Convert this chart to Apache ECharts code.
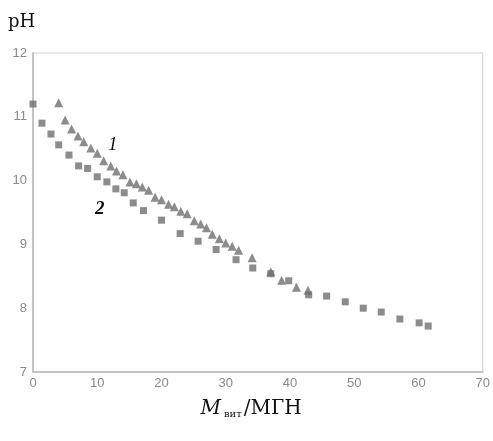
<!DOCTYPE html>
<html>
<head>
<meta charset="utf-8">
<script src="https://cdn.jsdelivr.net/npm/echarts@6/dist/echarts.min.js"></script>
<style>html,body{margin:0;padding:0;background:#fff}#c{width:493px;height:441px}</style>
</head>
<body>
<div id="c"></div>
<script>
// Series 1 (triangles)
const s1x = [4.0, 5.0, 6.0, 7.0, 7.9, 9.0, 10.0, 11.0, 12.1, 13.0, 14.0, 15.1, 16.1, 17.0, 18.0, 19.0, 20.0, 21.1, 22.0, 23.0, 24.0, 25.1, 26.1, 27.0, 27.9, 29.0, 30.0, 31.0, 32.0, 34.1, 37.0, 38.7, 41.0, 42.8];
const s1y = [11.22, 10.95, 10.81, 10.70, 10.61, 10.51, 10.43, 10.31, 10.23, 10.15, 10.09, 9.98, 9.95, 9.90, 9.85, 9.74, 9.70, 9.63, 9.59, 9.52, 9.48, 9.37, 9.32, 9.26, 9.16, 9.09, 9.02, 8.97, 8.91, 8.79, 8.57, 8.44, 8.33, 8.28];
// Series 2 (squares)
const s2x = [0, 1.4, 2.8, 4.0, 5.6, 7.1, 8.5, 10.0, 11.5, 12.9, 14.2, 15.6, 17.2, 20.0, 22.9, 25.7, 28.5, 31.6, 34.2, 37.0, 39.8, 42.9, 45.7, 48.6, 51.4, 54.2, 57.1, 60.1, 61.5];
const s2y = [11.20, 10.90, 10.73, 10.56, 10.40, 10.23, 10.19, 10.06, 9.98, 9.87, 9.81, 9.65, 9.53, 9.38, 9.17, 9.05, 8.92, 8.76, 8.63, 8.54, 8.43, 8.21, 8.19, 8.10, 8.00, 7.94, 7.83, 7.77, 7.72];
const xTicks = [0, 10, 20, 30, 40, 50, 60, 70];
const yTicks = [7, 8, 9, 10, 11, 12];

const chart = echarts.init(document.getElementById('c'));
const labelStyle = {color: '#8a8a8a', fontFamily: 'Liberation Sans, Arial, sans-serif', fontSize: 13};
chart.setOption({
  animation: false,
  grid: {left: 33, right: 8, top: 53, bottom: 69, show: true, borderColor: '#cfcfcf', borderWidth: 1},
  xAxis: {
    type: 'value', min: xTicks[0], max: xTicks[xTicks.length - 1], interval: 10,
    axisLine: {show: true, lineStyle: {color: '#c4c4c4', width: 2}},
    axisTick: {show: false}, splitLine: {show: false},
    axisLabel: Object.assign({margin: 5}, labelStyle)
  },
  yAxis: {
    type: 'value', min: yTicks[0], max: yTicks[yTicks.length - 1], interval: 1,
    axisLine: {show: true, lineStyle: {color: '#c4c4c4', width: 2}},
    axisTick: {show: false}, splitLine: {show: false},
    axisLabel: Object.assign({margin: 6}, labelStyle)
  },
  series: [
    {type: 'scatter', symbol: 'triangle', symbolSize: 9, itemStyle: {color: '#6f6f6f'},
     data: s1x.map((x, i) => [x, s1y[i]])},
    {type: 'scatter', symbol: 'rect', symbolSize: 7, itemStyle: {color: '#6f6f6f'},
     data: s2x.map((x, i) => [x, s2y[i]])}
  ]
});

const p1 = chart.convertToPixel({gridIndex: 0}, [12.4, 10.56]);
const p2 = chart.convertToPixel({gridIndex: 0}, [10.4, 9.55]);
chart.setOption({
  graphic: [
    {type: 'text', left: 8, top: 13, style: {text: 'pH', font: '18px "DejaVu Serif", serif', fill: '#111'}},
    {type: 'text', x: p1[0], y: p1[1], style: {text: '1', font: 'italic 19px "Liberation Serif", serif', fill: '#111', align: 'center', verticalAlign: 'middle'}},
    {type: 'text', x: p2[0], y: p2[1], style: {text: '2', font: 'italic bold 19px "Liberation Serif", serif', fill: '#111', align: 'center', verticalAlign: 'middle'}},
    {type: 'text', x: 251, y: 408, style: {
      text: '{m|M}{s|вит}{n|/МГН}', align: 'center', verticalAlign: 'middle',
      rich: {
        m: {font: 'italic 20px "DejaVu Serif", serif', fill: '#111', verticalAlign: 'bottom'},
        s: {font: '10px "DejaVu Serif", serif', fill: '#111', padding: [12, 2, 0, 3], verticalAlign: 'bottom'},
        n: {font: '20px "DejaVu Serif", serif', fill: '#111', verticalAlign: 'bottom'}
      }
    }}
  ]
});
</script>
</body>
</html>
